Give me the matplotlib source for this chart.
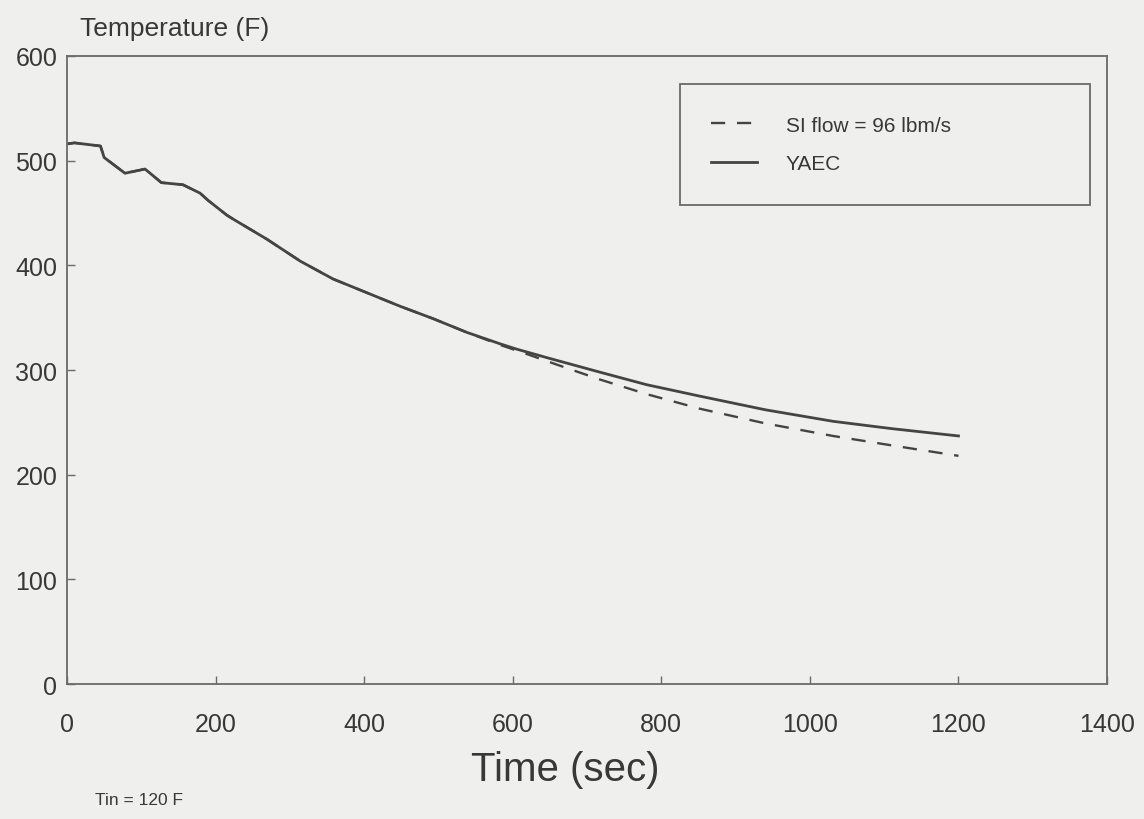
import matplotlib.pyplot as plt

plt.rcParams['font.family'] = ['Liberation Sans', 'DejaVu Sans']

# YAEC reference transient (sec, F)
t_yaec = [0, 10, 45, 50, 78, 105, 127, 156, 179, 190, 215, 224, 269, 314, 358,
          403, 448, 493, 538, 583, 605, 650, 717, 780, 852, 940, 1031, 1110, 1200]
T_yaec = [516, 517, 514, 503, 488, 492, 479, 477, 469, 462, 448, 444, 425, 404, 387,
          374, 361, 349, 336, 325, 320, 311, 298, 286, 275, 262, 251, 244, 237]

# SI flow = 96 lbm/s case
t_si = [0, 10, 45, 50, 78, 105, 127, 156, 179, 190, 215, 224, 269, 314, 358,
        403, 448, 493, 538, 583, 620, 660, 717, 780, 852, 940, 1031, 1110, 1200]
T_si = [516, 517, 514, 503, 488, 492, 479, 477, 469, 462, 448, 444, 425, 404, 387,
        374, 361, 349, 336, 324, 315, 305, 291, 277, 263, 249, 237, 228, 218]

xticks = [0, 200, 400, 600, 800, 1000, 1200, 1400]
yticks = [0, 100, 200, 300, 400, 500, 600]

bg = '#efefed'
ink = '#444444'
txt = '#383838'

fig = plt.figure(figsize=(11.44, 8.2), dpi=100, facecolor=bg)
ax = fig.add_axes([0.0586, 0.1646, 0.9091, 0.7659], facecolor=bg)

ax.plot(t_si, T_si, color=ink, lw=1.7, dashes=(6, 5), label='SI flow = 96 lbm/s')
ax.plot(t_yaec, T_yaec, color=ink, lw=2.0, label='YAEC')

ax.set_xlim(0, 1400)
ax.set_ylim(0, 600)
ax.set_xticks(xticks)
ax.set_yticks(yticks)

for s in ax.spines.values():
    s.set_color('#6a6a6a')
    s.set_linewidth(1.3)

ax.tick_params(axis='both', direction='in', length=6, width=1, color='#6a6a6a',
               labelcolor=txt, labelsize=18)
ax.tick_params(axis='x', pad=20)
ax.tick_params(axis='y', pad=7)

leg = ax.legend(loc='upper left', bbox_to_anchor=(0.589, 0.764, 0.395, 0.191),
                mode='expand', fontsize=15, frameon=True, fancybox=False,
                handlelength=2.2, handletextpad=1.4, borderpad=1.5,
                labelspacing=0.95, borderaxespad=0)
leg.get_frame().set_edgecolor('#6a6a6a')
leg.get_frame().set_facecolor(bg)
leg.get_frame().set_linewidth(1.3)
leg.get_frame().set_alpha(1)
for t in leg.get_texts():
    t.set_color(txt)

fig.text(0.0700, 0.965, 'Temperature (F)', fontsize=19, color=txt,
         ha='left', va='center')
ax.set_xlabel('Time (sec)', fontsize=29, color=txt, labelpad=11)
ax.xaxis.set_label_coords(0.479, -0.105)
fig.text(0.083, 0.024, 'Tin = 120 F', fontsize=12.5, color=txt,
         ha='left', va='center')

fig.savefig('out.png', dpi=100, facecolor=bg)
